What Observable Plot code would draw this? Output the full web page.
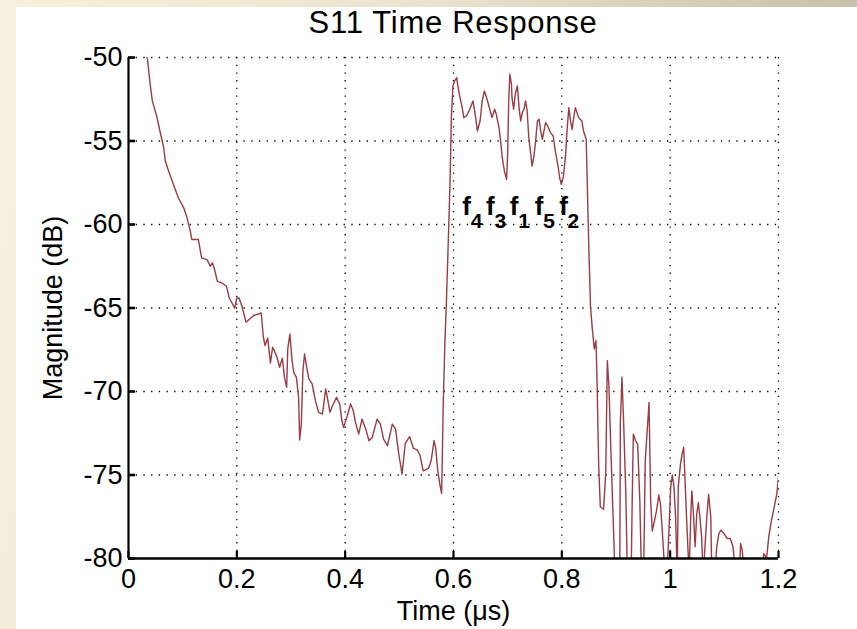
<!DOCTYPE html>
<html>
<head>
<meta charset="utf-8">
<script src="https://cdn.jsdelivr.net/npm/d3@7"></script>
<script src="https://cdn.jsdelivr.net/npm/@observablehq/plot@0.6"></script>
<style>
  html, body { margin: 0; padding: 0; }
  body {
    width: 857px; height: 629px; overflow: hidden; position: relative;
    background: linear-gradient(100deg, #f7f1dd 0%, #e9e3cd 45%, #bdb8a5 100%);
    font-family: "Liberation Sans", Arial, sans-serif;
  }
  #panel { position: absolute; left: 16px; top: 7px; right: 0; bottom: 0; background: #fff; }
  #title { position: absolute; left: 0; width: 906px; top: 5px; text-align: center;
           font-size: 31px; letter-spacing: 0.7px; color: #000; }
  #chart { position: absolute; left: 0; top: 40px; }
</style>
</head>
<body>
<div id="panel"></div>
<div id="title">S11 Time Response</div>
<div id="chart"></div>
<script>
// ---- data ----
const times = [
  0.030, 0.035, 0.040, 0.044, 0.052, 0.058, 0.065, 0.068, 0.074, 0.083, 0.092, 0.102, 0.108, 0.114, 0.117,
  0.129, 0.135, 0.145, 0.151, 0.155, 0.159, 0.164, 0.172, 0.181, 0.186, 0.196, 0.200, 0.204, 0.209, 0.217,
  0.231, 0.245, 0.249, 0.252, 0.257, 0.262, 0.266, 0.270, 0.274, 0.279, 0.284, 0.288, 0.292, 0.294, 0.298,
  0.302, 0.305, 0.310, 0.314, 0.316, 0.319, 0.322, 0.325, 0.329, 0.333, 0.339, 0.345, 0.351, 0.358, 0.364,
  0.367, 0.372, 0.376, 0.384, 0.390, 0.394, 0.397, 0.404, 0.410, 0.415, 0.419, 0.425, 0.431, 0.438, 0.444,
  0.450, 0.459, 0.465, 0.471, 0.478, 0.487, 0.493, 0.499, 0.505, 0.511, 0.519, 0.526, 0.533, 0.538, 0.544,
  0.554, 0.559, 0.564, 0.567, 0.571, 0.575, 0.578, 0.579, 0.581, 0.584, 0.587, 0.591, 0.594, 0.596, 0.599,
  0.602, 0.606, 0.608, 0.612, 0.616, 0.619, 0.624, 0.630, 0.636, 0.641, 0.644, 0.649, 0.653, 0.657, 0.662,
  0.667, 0.671, 0.676, 0.679, 0.684, 0.687, 0.690, 0.694, 0.698, 0.700, 0.702, 0.704, 0.707, 0.708, 0.711,
  0.714, 0.718, 0.721, 0.724, 0.727, 0.730, 0.733, 0.736, 0.739, 0.742, 0.745, 0.748, 0.751, 0.755, 0.758,
  0.761, 0.764, 0.767, 0.770, 0.774, 0.779, 0.784, 0.788, 0.793, 0.796, 0.799, 0.803, 0.807, 0.810, 0.813,
  0.816, 0.819, 0.822, 0.825, 0.828, 0.831, 0.837, 0.840, 0.845, 0.847, 0.850, 0.853, 0.856, 0.859, 0.860,
  0.863, 0.865, 0.868, 0.871, 0.877, 0.881, 0.884, 0.887, 0.890, 0.893, 0.896, 0.898, 0.907, 0.908, 0.911,
  0.914, 0.918, 0.921, 0.928, 0.930, 0.932, 0.936, 0.940, 0.944, 0.947, 0.951, 0.954, 0.958, 0.961, 0.964,
  0.967, 0.970, 0.975, 0.979, 0.982, 0.985, 0.988, 0.991, 0.996, 0.998, 1.001, 1.004, 1.007, 1.010, 1.013,
  1.015, 1.019, 1.022, 1.025, 1.027, 1.030, 1.035, 1.038, 1.040, 1.043, 1.046, 1.049, 1.052, 1.055, 1.058,
  1.061, 1.065, 1.068, 1.071, 1.075, 1.077, 1.082, 1.086, 1.090, 1.094, 1.099, 1.105, 1.111, 1.116, 1.121,
  1.128, 1.130, 1.133, 1.137, 1.167, 1.173, 1.178, 1.182, 1.186, 1.191, 1.197, 1.200
];
const magnitudes = [
  -49.5, -50.1, -51.6, -52.6, -53.5, -54.4, -55.4, -56.2, -56.8, -57.6, -58.4, -59.0, -59.6, -60.4, -60.9,
  -60.9, -62.0, -62.1, -62.5, -62.3, -62.7, -63.4, -63.5, -63.7, -64.4, -65.0, -64.4, -64.4, -64.85, -65.85,
  -65.45, -65.3, -66.75, -67.25, -66.8, -68.3, -67.35, -67.6, -67.95, -68.55, -68.0, -69.15, -69.75, -67.45, -66.55,
  -68.15, -68.85, -69.15, -70.35, -72.9, -71.95, -68.75, -67.75, -68.55, -69.25, -69.55, -70.55, -71.25, -71.35, -69.85,
  -70.35, -71.25, -70.9, -70.35, -70.75, -71.75, -72.15, -71.45, -70.75, -71.15, -71.85, -72.55, -71.65, -72.25, -72.95,
  -72.75, -71.65, -71.95, -72.85, -73.25, -71.95, -72.25, -73.75, -74.95, -73.1, -72.7, -73.4, -73.5, -73.8, -74.75,
  -74.6, -74.1, -72.95, -73.35, -74.75, -75.6, -76.1, -74.55, -70.85, -67.15, -64.55, -60.35, -56.95, -53.6, -51.7,
  -51.4, -51.2, -51.7, -52.4, -53.0, -53.6, -53.5, -53.1, -52.6, -53.6, -54.4, -53.8, -52.6, -52.0, -52.5,
  -53.1, -53.6, -53.1, -53.4, -54.2, -55.0, -56.0, -56.8, -57.3, -55.8, -52.5, -51.0, -51.6, -52.4, -53.1,
  -52.2, -51.7, -53.0, -53.8, -53.3, -53.1, -52.6, -53.2, -54.8, -55.6, -56.5, -56.0, -55.2, -53.8, -53.7,
  -54.4, -54.9, -54.4, -53.9, -54.1, -54.5, -54.7, -55.6, -56.5, -57.2, -57.6, -57.1, -55.8, -54.2, -53.0,
  -53.8, -54.3, -53.6, -53.0, -53.3, -53.6, -53.8, -54.4, -54.9, -57.6, -61.6, -64.95, -66.15, -67.15, -67.45,
  -66.95, -69.35, -74.35, -76.9, -77.05, -74.95, -68.15, -69.75, -72.95, -75.95, -78.85, -81, -81, -71.95, -69.15,
  -71.75, -75.95, -81, -81, -76.35, -72.55, -72.95, -73.15, -76.55, -81, -81, -74.15, -72.15, -70.65, -76.55,
  -78.35, -77.9, -77.1, -76.2, -76.7, -78.1, -79.7, -81, -79.7, -78.1, -75.7, -75.0, -75.7, -77.5, -81,
  -75.7, -74.35, -73.75, -73.35, -74.95, -77.35, -81, -77.5, -75.95, -77.35, -79.3, -77.35, -76.65, -77.55, -78.7,
  -81, -78.9, -77.35, -76.15, -77.55, -81, -81, -79.3, -78.5, -78.3, -78.5, -78.8, -78.8, -79.3, -81,
  -81, -79.1, -79.5, -81, -81, -79.7, -80.0, -78.7, -77.9, -77.1, -76.1, -75.1
];
const xTicks = [0, 0.2, 0.4, 0.6, 0.8, 1, 1.2];
const yTicks = [-80, -75, -70, -65, -60, -55, -50];
const peakLabels = ["4", "3", "1", "5", "2"];
const peakTimes = [0.624, 0.668, 0.712, 0.758, 0.803];
const peakLevel = -58.9;

const series = times.map((t, i) => ({t, m: magnitudes[i]}));
const peaks = peakLabels.map((s, i) => ({t: peakTimes[i], s}));

const font = "Liberation Sans, Arial, sans-serif";
const chart = Plot.plot({
  width: 857,
  height: 589,
  marginLeft: 128,
  marginRight: 79,
  marginTop: 17,
  marginBottom: 71,
  style: {fontFamily: font, background: "transparent", overflow: "visible"},
  x: {domain: [0, 1.2]},
  y: {domain: [-80, -50]},
  marks: [
    Plot.ruleX(xTicks.filter(d => d > 0), {stroke: "#000", strokeWidth: 1.3, strokeDasharray: "1.3,6.4"}),
    Plot.ruleY(yTicks.filter(d => d > -80), {stroke: "#000", strokeWidth: 1.3, strokeDasharray: "1.3,6.4"}),
    Plot.line(series, {x: "t", y: "m", stroke: "#9b3b44", strokeWidth: 1.4, clip: true}),
    Plot.text(peaks, {x: "t", y: () => peakLevel, text: () => "f", fontSize: 26, fontWeight: "bold", fill: "#000", dy: 1}),
    Plot.text(peaks, {x: "t", y: () => peakLevel, text: "s", fontSize: 21, fontWeight: "bold", fill: "#000", dx: 10, dy: 15}),
    Plot.ruleX([0], {stroke: "#000", strokeWidth: 2.2}),
    Plot.ruleY([-80], {stroke: "#000", strokeWidth: 2.6}),
    Plot.tickX(xTicks, {stroke: "#000", strokeWidth: 2.2, insetTop: 494}),
    Plot.tickY(yTicks, {stroke: "#000", strokeWidth: 2.6, insetRight: 643}),
    Plot.axisX(xTicks, {tickSize: 0, tickPadding: 10, tickFormat: d => String(d), fontSize: 27,
      label: "Time (μs)", labelAnchor: "center", labelArrow: "none", labelOffset: 61, fill: "#000"}),
    Plot.axisY(yTicks, {tickSize: 0, tickPadding: 6, tickFormat: d => String(d), fontSize: 27,
      label: "Magnitude (dB)", labelAnchor: "center", labelArrow: "none", labelOffset: 86, fill: "#000"})
  ]
});
document.getElementById("chart").appendChild(chart);
</script>
</body>
</html>
